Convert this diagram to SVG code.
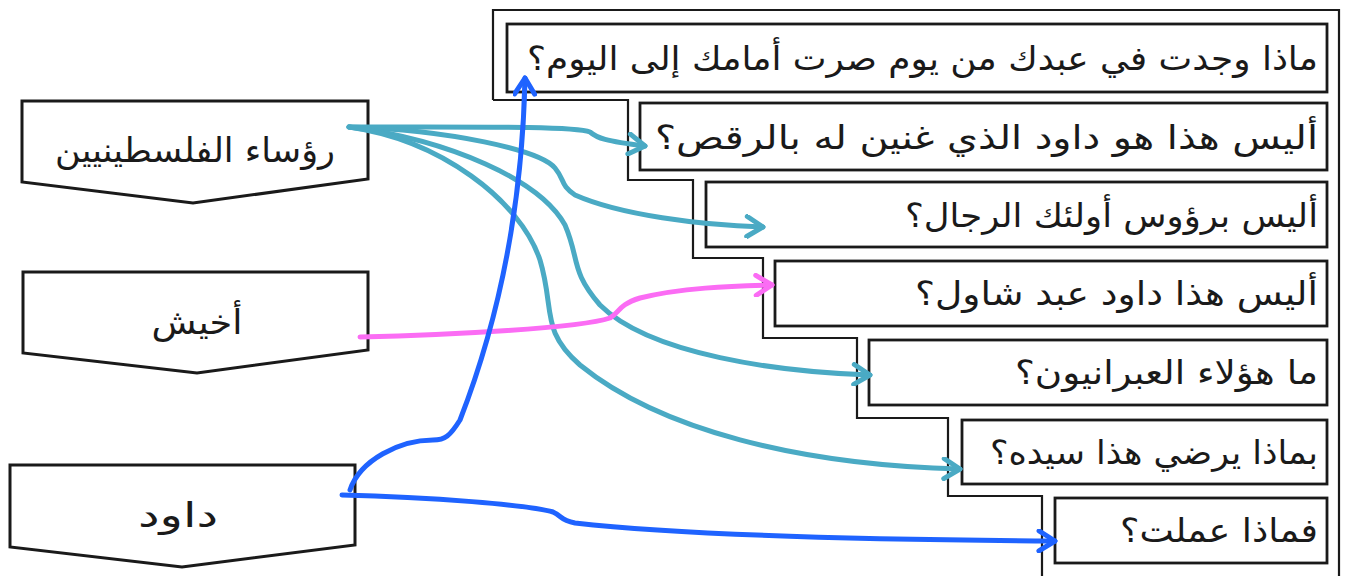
<svg xmlns="http://www.w3.org/2000/svg" width="1348" height="576" viewBox="0 0 1348 576">
<style>
  .bg{fill:#ffffff}
  .node{fill:#ffffff;stroke:#1a1a1a;stroke-width:3;stroke-linejoin:miter}
  .box{fill:#ffffff;stroke:#1a1a1a;stroke-width:2.8}
  .frame{fill:none;stroke:#1a1a1a;stroke-width:2.2}
  .t{font-family:"DejaVu Sans",sans-serif;font-size:33px;fill:#1a1a1a;text-anchor:end}
  .n{font-family:"DejaVu Sans",sans-serif;font-size:34px;fill:#1a1a1a;text-anchor:middle}
  .c{fill:none;stroke-width:5;stroke-linecap:round;stroke-linejoin:round}
  .teal{stroke:#4aaac4}
  .pink{stroke:#fb6cf4}
  .blue{stroke:#1f63ff}
</style>
<defs>
  <marker id="aTeal" viewBox="-20 -12 24 24" refX="0" refY="0" markerWidth="24" markerHeight="24" markerUnits="userSpaceOnUse" orient="auto">
    <path d="M-16,-10 L0,0 L-16,10" fill="none" stroke="#4aaac4" stroke-width="5" stroke-linecap="round" stroke-linejoin="round"/>
  </marker>
  <marker id="aPink" viewBox="-20 -12 24 24" refX="0" refY="0" markerWidth="24" markerHeight="24" markerUnits="userSpaceOnUse" orient="auto">
    <path d="M-16,-10 L0,0 L-16,10" fill="none" stroke="#fb6cf4" stroke-width="5" stroke-linecap="round" stroke-linejoin="round"/>
  </marker>
  <marker id="aBlue" viewBox="-20 -12 24 24" refX="0" refY="0" markerWidth="24" markerHeight="24" markerUnits="userSpaceOnUse" orient="auto">
    <path d="M-16,-10 L0,0 L-16,10" fill="none" stroke="#1f63ff" stroke-width="5" stroke-linecap="round" stroke-linejoin="round"/>
  </marker>
</defs>
<rect class="bg" x="0" y="0" width="1348" height="576"/>

<g id="frame">
  <path class="frame" d="M493,100 L493,10 L1339,10 L1339,576 M493,100 L628,100 L628,180 L693,180 L693,258 L763,258 L763,338 L857,338 L857,418 L948,418 L948,496 L1042,496 L1042,576"/>
</g>

<g id="q1">
  <rect class="box" x="507" y="24" width="820" height="68"/>
  <text class="t" x="1318" y="70" textLength="791" lengthAdjust="spacingAndGlyphs">ماذا وجدت في عبدك من يوم صرت أمامك إلى اليوم؟</text>
</g>
<g id="q2">
  <rect class="box" x="640" y="103" width="687" height="67"/>
  <text class="t" x="1318" y="149" textLength="663" lengthAdjust="spacingAndGlyphs">أليس هذا هو داود الذي غنين له بالرقص؟</text>
</g>
<g id="q3">
  <rect class="box" x="706" y="182" width="621" height="65"/>
  <text class="t" x="1318" y="227" textLength="413" lengthAdjust="spacingAndGlyphs">أليس برؤوس أولئك الرجال؟</text>
</g>
<g id="q4">
  <rect class="box" x="775" y="261" width="552" height="65"/>
  <text class="t" x="1318" y="305" textLength="403" lengthAdjust="spacingAndGlyphs">أليس هذا داود عبد شاول؟</text>
</g>
<g id="q5">
  <rect class="box" x="869" y="340" width="458" height="65"/>
  <text class="t" x="1318" y="384" textLength="303" lengthAdjust="spacingAndGlyphs">ما هؤلاء العبرانيون؟</text>
</g>
<g id="q6">
  <rect class="box" x="962" y="420" width="365" height="64"/>
  <text class="t" x="1318" y="464" textLength="328" lengthAdjust="spacingAndGlyphs">بماذا يرضي هذا سيده؟</text>
</g>
<g id="q7">
  <rect class="box" x="1055" y="498" width="272" height="65"/>
  <text class="t" x="1318" y="542" textLength="198" lengthAdjust="spacingAndGlyphs">فماذا عملت؟</text>
</g>

<g id="n1">
  <path class="node" d="M22,101 L368,101 L368,179 L193,203 L22,182 Z"/>
  <text class="n" x="195" y="162" textLength="280" lengthAdjust="spacingAndGlyphs">رؤساء الفلسطينيين</text>
</g>
<g id="n2">
  <path class="node" d="M23,272 L368,272 L368,350 L197,373 L23,353 Z"/>
  <text class="n" x="197" y="334" textLength="91" lengthAdjust="spacingAndGlyphs">أخيش</text>
</g>
<g id="n3">
  <path class="node" d="M10,465 L355,465 L355,545 L182,567 L10,547 Z"/>
  <text class="n" x="178" y="527" textLength="80" lengthAdjust="spacingAndGlyphs">داود</text>
</g>

<g id="connectors">
  <path class="c teal" marker-end="url(#aTeal)" d="M349,127 C480,127 575,126 590,132 C597,138 605,141 645,146"/>
  <path class="c teal" marker-end="url(#aTeal)" d="M349,127 C450,130 540,150 555,168 C565,180 560,185 575,195 C620,215 700,225 763,227"/>
  <path class="c teal" marker-end="url(#aTeal)" d="M349,127 C450,140 540,180 565,225 C580,260 570,270 600,305 C650,355 780,372 870,375"/>
  <path class="c teal" marker-end="url(#aTeal)" d="M349,127 C440,140 520,200 540,260 C555,310 540,330 580,365 C660,430 800,465 960,469"/>
  <path class="c pink" marker-end="url(#aPink)" d="M360,337 C450,335 580,328 610,318 C620,312 618,305 640,298 C680,288 730,286 772,285"/>
  <path class="c blue" marker-end="url(#aBlue)" d="M350,490 C360,460 400,440 433,440 C445,440 450,436 460,420 C495,330 522,220 525,78"/>
  <path class="c blue" marker-end="url(#aBlue)" d="M342,495 C430,497 530,505 553,512 C562,516 560,520 575,523 C700,537 900,540 1055,541"/>
</g>
</svg>
